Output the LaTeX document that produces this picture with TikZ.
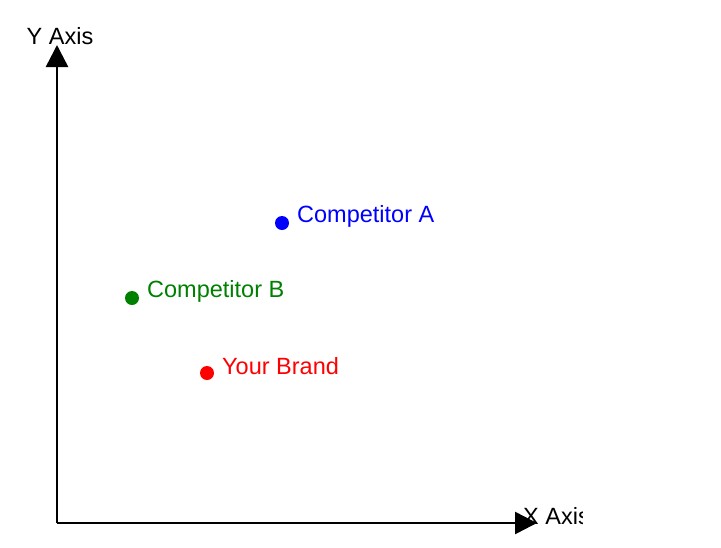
\documentclass[tikz,border=0pt]{standalone}
\usepackage{fontspec}
\setmainfont{Liberation Sans}
\usetikzlibrary{arrows.meta}
\tikzset{axis/.style={line width=2.5pt,-{Triangle[width=22pt,length=22pt]}}}
\tikzset{dot/.style={circle,inner sep=0pt,minimum size=14pt}}
\tikzset{lbl/.style={anchor=west,inner sep=0pt,font=\fontsize{23.5}{28}\selectfont}}
\begin{document}
\begin{tikzpicture}[x=1pt,y=-1pt]
\useasboundingbox (0,0) rectangle (721,547);
\coordinate (O) at (57,523);
\coordinate (Ytip) at (57,45);
\coordinate (Xtip) at (537,523);
\draw[axis] (O) -- (Ytip);
\draw[axis] (O) -- (Xtip);
\node[font=\fontsize{23.5}{28}\selectfont] (ylab) at (60,36) {Y Axis};
\begin{scope}
\clip (500,500) rectangle (582,540);
\node[lbl] (xlab) at (523,516) {X Axis};
\end{scope}
% data points
\node[dot,fill=blue] (A) at (282,223) {};
\node[lbl,text=blue] (Alab) at (297,216) {Competitor A};
\node[dot,fill=green!50!black] (B) at (132,298) {};
\node[lbl,text=green!50!black] (Blab) at (147,291) {Competitor B};
\node[dot,fill=red] (C) at (207,373) {};
\node[lbl,text=red] (Clab) at (222,366) {Your Brand};
\end{tikzpicture}
\end{document}
